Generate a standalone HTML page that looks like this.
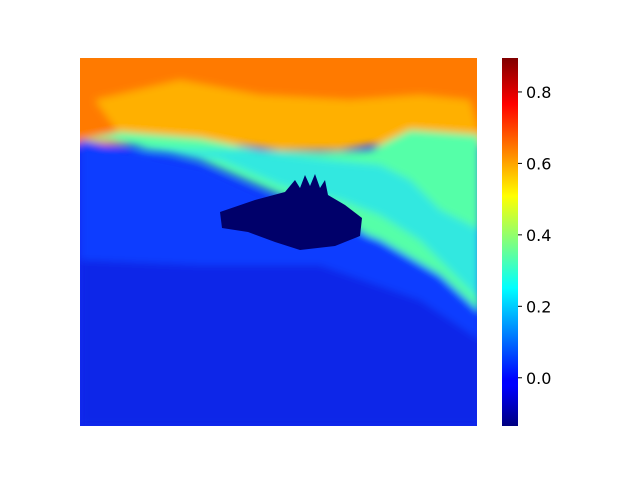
<!DOCTYPE html>
<html><head><meta charset="utf-8"><style>
body{margin:0;background:#fff;width:640px;height:480px;overflow:hidden}
text{font-family:"DejaVu Sans","Liberation Sans",sans-serif;font-size:16px;fill:#000}
</style></head><body>
<svg id="chart" width="640" height="480">
<defs>
<linearGradient id="jet" x1="0" y1="1" x2="0" y2="0">
<stop offset="0" stop-color="#000080"/><stop offset="0.11" stop-color="#0000ff"/>
<stop offset="0.125" stop-color="#0000ff"/><stop offset="0.375" stop-color="#00ffff"/>
<stop offset="0.5" stop-color="#7fff7f"/><stop offset="0.625" stop-color="#ffff00"/>
<stop offset="0.875" stop-color="#ff0000"/><stop offset="1" stop-color="#800000"/>
</linearGradient>
<filter id="blur"><feGaussianBlur stdDeviation="4"/></filter>
<clipPath id="clip"><rect x="80" y="58" width="397" height="368"/></clipPath>
</defs>
<g clip-path="url(#clip)">
<rect x="80" y="58" width="397" height="368" fill="#0a28f0"/>
<g filter="url(#blur)">
<polygon fill="#ff7a00" points="70,50 490,50 490,145 70,145"/>
<polygon fill="#ffb000" points="95,100 180,80 260,95 350,100 420,95 470,100 480,135 400,140 340,150 280,150 200,140 120,135"/>
<polygon fill="#55ffa8" points="80,140 120,132 200,138 260,150 320,152 370,150 410,130 480,135 480,320 440,290 400,255 350,225 280,195 200,160 110,140"/>
<polygon fill="#30e8e0" points="130,148 220,160 280,185 340,200 380,215 420,240 470,290 480,300 480,230 440,210 410,180 380,165 330,160 250,150"/>
<polygon fill="#0a3cff" points="80,140 200,165 300,210 380,240 440,275 480,312 480,426 80,426"/>
<polygon fill="#0828e8" points="80,260 200,265 320,265 420,300 480,340 480,426 80,426"/>
</g>
<path fill="#00006a" d="M220,212 L255,200 L285,192 L295,180 L300,188 L305,175 L310,186 L315,174 L320,188 L325,180 L328,195 L345,205 L362,218 L360,236 L335,246 L300,250 L275,242 L248,232 L222,228 Z"/>
</g>
<g id="cbar">
<rect x="502" y="58" width="16" height="368" fill="url(#jet)"/>
</g>
<g id="ticks"></g>
</svg>
<script>
const tickValues=[0.0,0.2,0.4,0.6,0.8];
const tickLabels=["0.0","0.2","0.4","0.6","0.8"];
const vmin=-0.135, vmax=0.895;
const y0=426,y1=58;
function yScale(v){return y0-(v-vmin)/(vmax-vmin)*(y0-y1);}
const g=document.getElementById('ticks');
const ns='http://www.w3.org/2000/svg';
tickValues.forEach((v,i)=>{
 const y=yScale(v);
 const l=document.createElementNS(ns,'line');
 l.setAttribute('x1',518);l.setAttribute('x2',522);l.setAttribute('y1',y);l.setAttribute('y2',y);
 l.setAttribute('stroke','#000');
 
 
 g.appendChild(l);
 const t=document.createElementNS(ns,'text');
 t.setAttribute('x',526);t.setAttribute('y',y+6);
 t.textContent=tickLabels[i];
 
 
 g.appendChild(t);
});
</script>
</body></html>
